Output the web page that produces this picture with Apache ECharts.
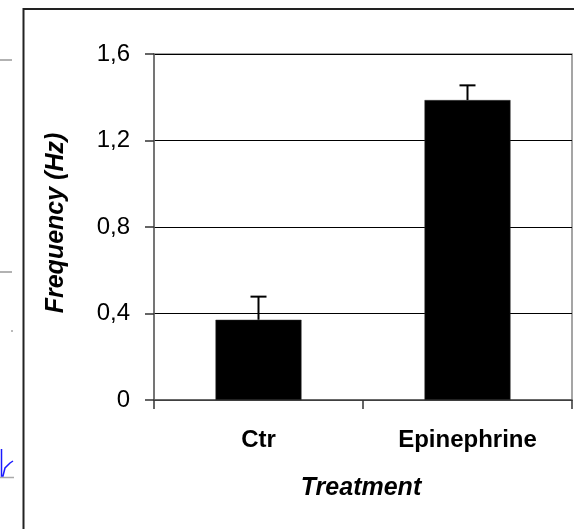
<!DOCTYPE html>
<html>
<head>
<meta charset="utf-8">
<script src="https://cdn.jsdelivr.net/npm/echarts@6/dist/echarts.min.js"></script>
<style>
html,body{margin:0;padding:0;background:#fff;}
#chart{width:574px;height:529px;}
</style>
</head>
<body>
<div id="chart"></div>
<script>
var categories = ['Ctr', 'Epinephrine'];
var meanValues = [0.371, 1.387];
var errorValues = [0.107, 0.068];
var yTicks = [0, 0.4, 0.8, 1.2, 1.6];

var chart = echarts.init(document.getElementById('chart'), null, {renderer: 'canvas'});
var FONT = '"Liberation Sans", Arial, sans-serif';

var errData = categories.map(function (c, i) {
  return [i, meanValues[i], meanValues[i] + errorValues[i]];
});

chart.setOption({
  animation: false,
  backgroundColor: '#ffffff',
  textStyle: {fontFamily: FONT},
  grid: {
    left: 154, right: 2, top: 54, bottom: 129,
    show: true, borderColor: '#888888', borderWidth: 1.5, backgroundColor: 'transparent'
  },
  xAxis: {
    type: 'category',
    data: categories,
    boundaryGap: true,
    axisLine: {lineStyle: {color: '#555555', width: 1.5}},
    axisTick: {show: true, length: 9, alignWithLabel: false, interval: 0, lineStyle: {color: '#333333', width: 1.5}},
    axisLabel: {fontFamily: FONT, fontWeight: 'bold', fontSize: 24, color: '#000', margin: 28, interval: 0},
    name: 'Treatment',
    nameLocation: 'middle',
    nameGap: 76,
    nameTextStyle: {fontFamily: FONT, fontWeight: 'bold', fontStyle: 'italic', fontSize: 25, color: '#000', padding: [0, 4, 0, 0]}
  },
  yAxis: {
    type: 'value',
    min: yTicks[0],
    max: yTicks[yTicks.length - 1],
    interval: 0.4,
    axisLine: {show: true, lineStyle: {color: '#666666', width: 1.5}},
    axisTick: {show: true, length: 9, lineStyle: {color: '#333333', width: 1.5}},
    axisLabel: {
      fontFamily: FONT, fontSize: 24, color: '#000', margin: 24,
      formatter: function (v) { return (Math.round(v * 10) / 10).toString().replace('.', ','); }
    },
    splitLine: {show: true, lineStyle: {color: '#000000', width: 1}},
    name: 'Frequency (Hz)',
    nameLocation: 'middle',
    nameGap: 85,
    nameRotate: 90,
    nameTextStyle: {fontFamily: FONT, fontWeight: 'bold', fontStyle: 'italic', fontSize: 25, color: '#000', padding: [0, 0, 0, 8]}
  },
  series: [
    {
      type: 'bar',
      data: meanValues,
      barWidth: 86,
      itemStyle: {color: '#000000', borderColor: '#333', borderWidth: 0.5},
      z: 2
    },
    {
      type: 'custom',
      data: errData,
      z: 3,
      renderItem: function (params, api) {
        var x = api.value(0);
        var base = api.coord([x, api.value(1)]);
        var top = api.coord([x, api.value(2)]);
        var hw = 8;
        return {
          type: 'group',
          children: [
            {type: 'line', shape: {x1: base[0], y1: base[1], x2: top[0], y2: top[1]}, style: {stroke: '#000', lineWidth: 2}},
            {type: 'line', shape: {x1: top[0] - hw, y1: top[1], x2: top[0] + hw, y2: top[1]}, style: {stroke: '#000', lineWidth: 2}}
          ]
        };
      }
    }
  ],
  graphic: [
    {type: 'rect', shape: {x: 23.5, y: 9, width: 600, height: 600}, style: {fill: 'none', stroke: '#222222', lineWidth: 2}, silent: true},
    {type: 'line', shape: {x1: 0, y1: 60, x2: 12, y2: 60}, style: {stroke: '#999999', lineWidth: 1.5}, silent: true},
    {type: 'line', shape: {x1: 0, y1: 272, x2: 12, y2: 272}, style: {stroke: '#999999', lineWidth: 1.5}, silent: true},
    {type: 'line', shape: {x1: 11, y1: 331, x2: 13, y2: 331}, style: {stroke: '#777777', lineWidth: 1}, silent: true},
    {type: 'line', shape: {x1: 0, y1: 477.5, x2: 14, y2: 477.5}, style: {stroke: '#aaaaaa', lineWidth: 1.5}, silent: true},
    {type: 'polyline', shape: {points: [[1.5, 449], [1.5, 476], [3, 476], [5, 468], [10, 463], [13, 461]]}, style: {stroke: '#1a1aff', lineWidth: 1.5, fill: 'none'}, silent: true}
  ]
});
</script>
</body>
</html>
